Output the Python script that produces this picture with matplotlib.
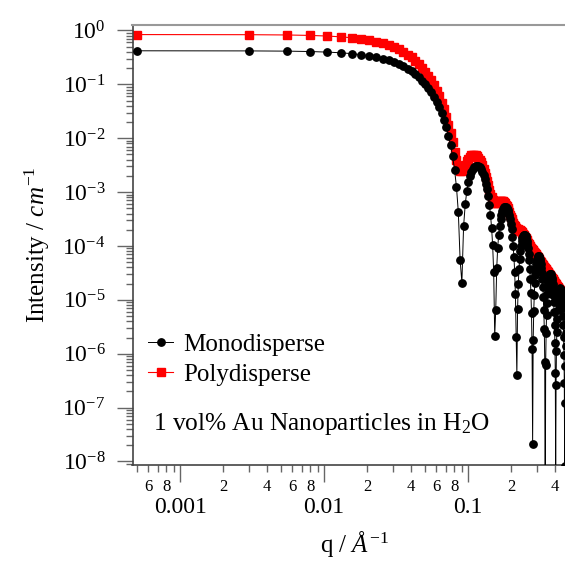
import numpy as np
import matplotlib
matplotlib.use("Agg")
import matplotlib.pyplot as plt
from matplotlib.ticker import FixedLocator, FuncFormatter, NullFormatter, LogLocator

plt.rcParams['font.family'] = ['Liberation Serif', 'DejaVu Serif']
plt.rcParams['mathtext.fontset'] = 'custom'
plt.rcParams['mathtext.rm'] = 'Liberation Serif'
plt.rcParams['mathtext.it'] = 'Liberation Serif:italic'

# ---------------- data ----------------
q = [0.0005, 0.003, 0.0055, 0.008, 0.0105, 0.013, 0.0155, 0.018, 0.0205, 0.023,
     0.0255, 0.028, 0.0305, 0.033, 0.0355, 0.038, 0.0405, 0.043, 0.0455, 0.048,
     0.0505, 0.053, 0.0555, 0.058, 0.0605, 0.063, 0.0655, 0.068, 0.0705, 0.073,
     0.0755, 0.078, 0.0805, 0.083, 0.0855, 0.088, 0.0905, 0.093, 0.0955, 0.098,
     0.1005, 0.103, 0.1055, 0.108, 0.1105, 0.113, 0.1155, 0.118, 0.1205, 0.123,
     0.1255, 0.128, 0.1305, 0.133, 0.1355, 0.138, 0.1405, 0.143, 0.1455, 0.148,
     0.1505, 0.153, 0.1555, 0.158, 0.1605, 0.163, 0.1655, 0.168, 0.1705, 0.173,
     0.1755, 0.178, 0.1805, 0.183, 0.1855, 0.188, 0.1905, 0.193, 0.1955, 0.198,
     0.2005, 0.203, 0.2055, 0.208, 0.2105, 0.213, 0.2155, 0.218, 0.2205, 0.223,
     0.2255, 0.228, 0.2305, 0.233, 0.2355, 0.238, 0.2405, 0.243, 0.2455, 0.248,
     0.2505, 0.253, 0.2555, 0.258, 0.2605, 0.263, 0.2655, 0.268, 0.2705, 0.273,
     0.2755, 0.278, 0.2805, 0.283, 0.2855, 0.288, 0.2905, 0.293, 0.2955, 0.298,
     0.3005, 0.303, 0.3055, 0.308, 0.3105, 0.313, 0.3155, 0.318, 0.3205, 0.323,
     0.3255, 0.328, 0.3305, 0.333, 0.3355, 0.338, 0.3405, 0.343, 0.3455, 0.348,
     0.3505, 0.353, 0.3555, 0.358, 0.3605, 0.363, 0.3655, 0.368, 0.3705, 0.373,
     0.3755, 0.378, 0.3805, 0.383, 0.3855, 0.388, 0.3905, 0.393, 0.3955, 0.398,
     0.4005, 0.403, 0.4055, 0.408, 0.4105, 0.413, 0.4155, 0.418, 0.4205, 0.423,
     0.4255, 0.428, 0.4305, 0.433, 0.4355, 0.438, 0.4405, 0.443, 0.4455, 0.448,
     0.4505, 0.453, 0.4555, 0.458, 0.4605, 0.463, 0.4655, 0.468, 0.4705, 0.473,
     0.4755, 0.478, 0.4805, 0.483]

monodisperse = [
    4.20e-1, 4.18e-1, 4.14e-1, 4.07e-1, 3.97e-1, 3.86e-1, 3.72e-1, 3.56e-1, 3.39e-1, 3.20e-1,
    3.00e-1, 2.80e-1, 2.58e-1, 2.37e-1, 2.16e-1, 1.94e-1, 1.74e-1, 1.54e-1, 1.35e-1, 1.17e-1,
    1.00e-1, 8.48e-2, 7.08e-2, 5.82e-2, 4.70e-2, 3.73e-2, 2.89e-2, 2.18e-2, 1.59e-2, 1.12e-2,
    7.45e-3, 4.63e-3, 2.60e-3, 1.24e-3, 4.25e-4, 5.43e-5, 2.09e-5,
    2.31e-4, 6.00e-4, 1.06e-3, 1.54e-3, 2.01e-3, 2.41e-3, 2.74e-3, 2.97e-3, 3.09e-3, 3.11e-3,
    3.04e-3, 2.89e-3, 2.66e-3, 2.39e-3, 2.08e-3, 1.75e-3, 1.43e-3, 1.12e-3, 8.34e-4, 5.86e-4,
    3.80e-4, 2.19e-4, 1.04e-4, 3.27e-5, 2.13e-6, 6.53e-6, 3.95e-5, 9.37e-5, 1.62e-4, 2.37e-4,
    3.13e-4, 3.83e-4, 4.42e-4, 4.89e-4, 5.19e-4, 5.32e-4, 5.28e-4, 5.08e-4, 4.75e-4, 4.31e-4,
    3.78e-4, 3.20e-4, 2.61e-4, 2.03e-4, 1.49e-4, 1.02e-4, 6.29e-5, 3.29e-5, 1.26e-5, 2.02e-6,
    4.07e-7, 6.74e-6, 1.96e-5, 3.73e-5, 5.81e-5, 8.02e-5, 1.02e-4, 1.22e-4, 1.38e-4, 1.51e-4,
    1.58e-4, 1.61e-4, 1.58e-4, 1.51e-4, 1.40e-4, 1.25e-4, 1.08e-4, 9.01e-5, 7.17e-5, 5.41e-5,
    3.80e-5, 2.43e-5, 1.33e-5, 5.63e-6, 1.21e-6, 2.13e-8, 1.81e-6, 6.16e-6, 1.25e-5, 2.03e-5,
    2.89e-5, 3.76e-5, 4.57e-5, 5.28e-5, 5.85e-5, 6.24e-5, 6.42e-5, 6.41e-5, 6.20e-5, 5.81e-5,
    5.27e-5, 4.62e-5, 3.90e-5, 3.15e-5, 2.41e-5, 1.73e-5, 1.13e-5, 6.40e-6, 2.85e-6, 7.15e-7,
    1.99e-10, 6.30e-7, 2.45e-6, 5.26e-6, 8.78e-6, 1.27e-5, 1.68e-5, 2.08e-5, 2.43e-5, 2.72e-5,
    2.93e-5,
    3.05e-5, 3.07e-5, 2.99e-5, 2.83e-5, 2.59e-5, 2.29e-5, 1.95e-5, 1.59e-5, 1.23e-5, 8.95e-6,
    5.94e-6, 3.45e-6, 1.60e-6, 4.43e-7, 5.08e-9, 2.60e-7, 1.14e-6, 2.55e-6, 4.36e-6, 6.43e-6,
    8.60e-6, 1.07e-5, 1.27e-5, 1.43e-5, 1.55e-5, 1.62e-5, 1.65e-5, 1.62e-5, 1.54e-5, 1.42e-5,
    1.27e-5, 1.09e-5, 8.92e-6, 6.97e-6, 5.10e-6, 3.43e-6, 2.03e-6, 9.66e-7, 2.88e-7, 8.28e-9,
    1.20e-7, 5.92e-7, 1.37e-6, 2.39e-6, 3.57e-6, 4.83e-6]

polydisperse = [
    8.40e-1, 8.36e-1, 8.26e-1, 8.10e-1, 7.89e-1, 7.63e-1, 7.33e-1, 6.99e-1, 6.61e-1, 6.21e-1,
    5.78e-1, 5.34e-1, 4.90e-1, 4.45e-1, 4.01e-1, 3.58e-1, 3.16e-1, 2.76e-1, 2.39e-1, 2.05e-1,
    1.73e-1, 1.44e-1, 1.19e-1, 9.62e-2, 7.67e-2, 6.00e-2, 4.60e-2, 3.45e-2, 2.52e-2, 1.79e-2,
    1.24e-2, 8.41e-3, 5.63e-3, 3.87e-3, 2.88e-3,
    2.49e-3, 2.51e-3, 2.80e-3, 3.24e-3, 3.72e-3,
    4.17e-3, 4.55e-3, 4.81e-3, 4.95e-3, 4.96e-3, 4.85e-3, 4.63e-3, 4.32e-3, 3.95e-3, 3.55e-3,
    3.12e-3, 2.70e-3, 2.30e-3, 1.93e-3, 1.61e-3, 1.33e-3, 1.10e-3, 9.26e-4, 7.96e-4, 7.08e-4,
    6.54e-4, 6.29e-4, 6.24e-4, 6.33e-4, 6.49e-4, 6.67e-4, 6.83e-4, 6.93e-4, 6.96e-4, 6.90e-4,
    6.75e-4, 6.52e-4, 6.22e-4, 5.86e-4, 5.46e-4, 5.04e-4, 4.62e-4, 4.20e-4, 3.82e-4, 3.47e-4,
    3.15e-4, 2.89e-4, 2.66e-4,
    2.48e-4, 2.34e-4, 2.23e-4, 2.15e-4, 2.09e-4, 2.05e-4, 2.01e-4, 1.98e-4, 1.95e-4, 1.91e-4,
    1.87e-4, 1.82e-4, 1.76e-4, 1.70e-4, 1.63e-4, 1.56e-4, 1.49e-4, 1.42e-4, 1.34e-4, 1.28e-4,
    1.21e-4, 1.15e-4, 1.09e-4, 1.04e-4, 9.97e-5, 9.56e-5, 9.20e-5, 8.88e-5, 8.59e-5, 8.33e-5,
    8.09e-5, 7.86e-5, 7.64e-5, 7.43e-5, 7.22e-5, 7.01e-5, 6.80e-5, 6.59e-5, 6.38e-5, 6.18e-5,
    5.97e-5, 5.77e-5, 5.57e-5, 5.38e-5, 5.20e-5, 5.02e-5, 4.86e-5, 4.70e-5, 4.55e-5, 4.41e-5,
    4.28e-5, 4.15e-5, 4.03e-5, 3.91e-5, 3.81e-5, 3.70e-5, 3.60e-5, 3.50e-5, 3.41e-5, 3.32e-5,
    3.23e-5, 3.14e-5, 3.05e-5, 2.97e-5, 2.89e-5, 2.81e-5, 2.74e-5, 2.66e-5, 2.59e-5, 2.52e-5,
    2.46e-5, 2.39e-5, 2.33e-5, 2.27e-5, 2.21e-5, 2.16e-5, 2.10e-5, 2.05e-5, 2.00e-5, 1.95e-5,
    1.91e-5, 1.86e-5, 1.82e-5, 1.77e-5, 1.73e-5, 1.69e-5, 1.65e-5, 1.61e-5, 1.58e-5, 1.54e-5,
    1.50e-5, 1.47e-5, 1.44e-5, 1.40e-5, 1.37e-5, 1.34e-5, 1.31e-5, 1.28e-5, 1.25e-5, 1.23e-5,
    1.20e-5, 1.17e-5, 1.15e-5, 1.13e-5, 1.10e-5, 1.08e-5, 1.06e-5, 1.03e-5, 1.01e-5, 9.91e-6,
    9.71e-6]

x_major_ticks = [1e-3, 1e-2, 1e-1]
x_major_labels = ['0.001', '0.01', '0.1']
y_major_exponents = [-8, -7, -6, -5, -4, -3, -2, -1, 0]

# ---------------- figure ----------------
fig = plt.figure(figsize=(5.65, 5.61), dpi=100)
ax = fig.add_axes([132.5 / 565, 96 / 561, (576 - 132.5) / 565, 440 / 561])
ax.plot(q, polydisperse, color='red', lw=0.8, marker='s', ms=6, mec='red', mfc='red',
        label='Polydisperse', zorder=2)
ax.plot(q, monodisperse, color='black', lw=0.7, marker='o', ms=5.3, mec='black', mfc='black',
        label='Monodisperse', zorder=3)
ax.set_xscale('log')
ax.set_yscale('log')
ax.set_xlim(4.67e-4, 0.5612)
ax.set_ylim(10 ** -8.065, 10 ** 0.102)

ax.xaxis.set_major_locator(FixedLocator(x_major_ticks))
ax.xaxis.set_major_formatter(FuncFormatter(
    lambda v, p: dict(zip(x_major_ticks, x_major_labels)).get(v, '')))
ax.xaxis.set_minor_locator(LogLocator(base=10, subs=np.arange(2, 10), numticks=20))


def minfmt(v, p):
    m = v / 10 ** np.floor(np.log10(v) + 1e-9)
    mi = int(round(m))
    return str(mi) if mi in (2, 4, 6, 8) else ''


ax.xaxis.set_minor_formatter(FuncFormatter(minfmt))

ax.yaxis.set_major_locator(FixedLocator([10.0 ** k for k in y_major_exponents]))
ax.yaxis.set_major_formatter(FuncFormatter(lambda v, p: r'$10^{%d}$' % int(round(np.log10(v)))))
ax.yaxis.set_minor_locator(LogLocator(base=10, subs=np.arange(2, 10), numticks=20))
ax.yaxis.set_minor_formatter(NullFormatter())

ax.tick_params(axis='x', which='major', length=12, width=1, color='#666', pad=11, labelsize=17)
ax.tick_params(axis='x', which='minor', length=5, width=1, color='#666', pad=5, labelsize=12)
ax.tick_params(axis='y', which='major', length=11.5, width=1, color='#666', pad=8, labelsize=17)
ax.tick_params(axis='y', which='minor', length=5, width=1, color='#666')

for sp in ('left', 'bottom'):
    ax.spines[sp].set_color('#444')
    ax.spines[sp].set_linewidth(1.2)
ax.spines['top'].set_color('#999')
ax.spines['top'].set_linewidth(1.5)
ax.spines['right'].set_visible(False)

ax.set_ylabel(r'Intensity / $\mathit{cm}^{-1}$', fontsize=18)
ax.yaxis.set_label_coords(-0.182, 0.5)
ax.set_xlabel(r'q / $\mathit{\AA}^{-1}$', fontsize=18)
ax.xaxis.set_label_coords(0.5, -0.145)

h, l = ax.get_legend_handles_labels()
fig.legend([h[1], h[0]], [l[1], l[0]], loc='upper left',
           bbox_to_anchor=(148 / 565, (561 - 333) / 561),
           frameon=False, fontsize=18, handlelength=1.0, handletextpad=0.4,
           labelspacing=0.31, borderpad=0, borderaxespad=0)
fig.text(153 / 565, (561 - 430) / 561, r'1 vol% Au Nanoparticles in H$_2$O',
         fontsize=18.3, va='baseline')

fig.savefig('out.png', dpi=100)
